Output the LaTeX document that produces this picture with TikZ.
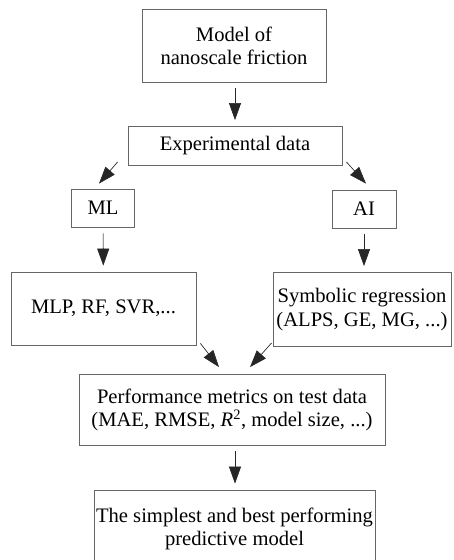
\documentclass[tikz,border=0pt]{standalone}
\usepackage{fontspec}
\setmainfont{Liberation Serif}
\usepackage{tikz}
\usetikzlibrary{arrows.meta, positioning, calc}

\begin{document}
\begin{tikzpicture}[
  x=1pt, y=-1pt,
  box/.style={rectangle, draw=black!60, line width=0.8pt, align=center, inner sep=0pt,
    font=\fontsize{20.6}{23.5}\selectfont},
  arrow/.style={-{Triangle[length=17pt,width=12pt]}, line width=0.6pt, draw=black!85, fill=black}
  ]
  \useasboundingbox (0,0) rectangle (454,560);
  \node[box, minimum width=184pt, minimum height=73pt] (m) at (234,46) {Model of\\nanoscale friction};
  \node[box, minimum width=214pt, minimum height=39pt] (e) at (235,146) {Experimental data};
  \node[box, minimum width=63pt, minimum height=38pt] (ml) at (103,208) {ML};
  \node[box, minimum width=64pt, minimum height=38pt] (ai) at (364,209) {AI};
  \node[box, minimum width=185pt, minimum height=73pt] (mlp) at (103.5,308.5) {MLP, RF, SVR,...};
  \node[box, minimum width=178pt, minimum height=74pt] (sr) at (362,309.5) {Symbolic regression\\(ALPS, GE, MG, ...)};
  \node[box, minimum width=306pt, minimum height=71pt] (pm) at (232,410) {Performance metrics on test data\\(MAE, RMSE, \textit{R}\textsuperscript{2}, model size, ...)};
  \node[box, minimum width=281pt, minimum height=78pt] (best) at (234.5,529) {The simplest and best performing\\predictive model};
  \draw[arrow, shorten <=5pt, shorten >=6pt] (m.south -| 235,0) -- (e.north -| 235,0);
  \draw[arrow] ([xshift=-10pt,yshift=4pt]e.south west) -- ([xshift=-4pt,yshift=5pt]ml.north);
  \draw[arrow] ([xshift=4pt,yshift=4pt]e.south east) -- ([xshift=2pt,yshift=6pt]ai.north);
  \draw[arrow, shorten <=6pt, shorten >=6pt] (ml) -- (mlp);
  \draw[arrow, shorten <=6pt, shorten >=6pt] (ai) -- (ai |- sr.north);
  \draw[arrow] ([xshift=4pt,yshift=2pt]mlp.south east) -- ([xshift=-13pt,yshift=7pt]pm.north);
  \draw[arrow] ([xshift=-1pt,yshift=4pt]sr.south west) -- ([xshift=18pt,yshift=7pt]pm.north);
  \draw[arrow, shorten <=5pt, shorten >=6pt] (pm.south -| 235,0) -- (best.north -| 235,0);
\end{tikzpicture}
\end{document}
